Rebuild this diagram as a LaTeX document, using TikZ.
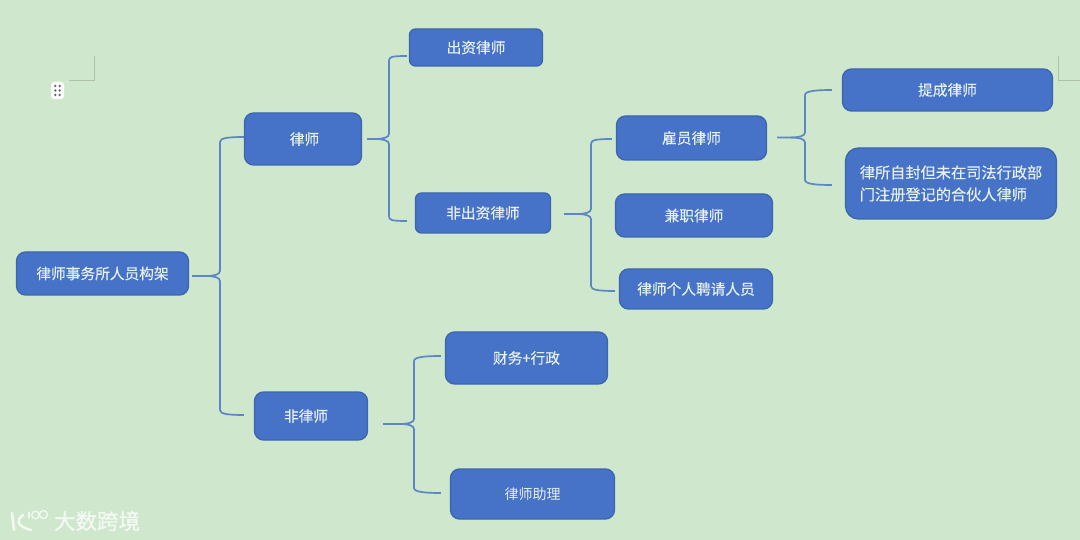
\documentclass[tikz,border=0pt]{standalone}
\usepackage{fontspec}
\setmainfont[FakeBold=0.35]{Noto Sans CJK SC}
\newfontfamily\plainf{Noto Sans CJK SC}
\newfontfamily\heavyf[FakeBold=0.8]{Noto Sans CJK SC}
\usetikzlibrary{calc}
\definecolor{bgc}{HTML}{CFE7CC}
\definecolor{boxc}{HTML}{4672C8}
\definecolor{edgec}{HTML}{3B66AE}
\definecolor{linec}{HTML}{5C86C4}
\definecolor{txtc}{HTML}{E6F0EC}
\definecolor{markc}{HTML}{AEBFAC}
\tikzset{
  unitbox/.style={draw=edgec,line width=1.3pt,fill=boxc,rounded corners=9pt,text=txtc,inner sep=0pt,
    font=\fontsize{14.7pt}{21pt}\selectfont,align=center,xshift=.5pt},
  link/.style={draw=linec,line width=1.7pt},
  crop/.style={draw=markc,line width=.7pt},
  wm/.style={text=white,opacity=.75,font=\heavyf\fontsize{21.5pt}{21.5pt}\selectfont}
}
\newcommand{\bx}[7][]{\node[unitbox,minimum width=#5pt-#3pt,minimum height=#6pt-#4pt,#1] (#2) at ({(#3+#5)/2},{(#4+#6)/2}) {#7};}
\begin{document}
\begin{tikzpicture}[x=1pt,y=-1pt]
\useasboundingbox (0,0) rectangle (1080,540);
\fill[bgc] (0,0) rectangle (1080,540);
% page marks
\draw[crop] (94,56) -- (94,80.5) -- (69,80.5);
\draw[crop] (1058,56) -- (1058,80.5) -- (1080,80.5);
\node[fill=white,rounded corners=3pt,minimum width=13pt,minimum height=17pt,inner sep=0pt] (handle) at (57.5,90.5) {};
\foreach \dx in {-2.2,2.2} \foreach \dy in {-4.5,0,4.5} \fill[gray!80!black] ($(handle.center)+(\dx,\dy)$) circle (1.3);
% boxes
\bx{root}{16}{252}{188}{295}{律师事务所人员构架}
\bx{lawyer}{244}{113}{361}{165}{\hspace*{3pt}律师}
\bx{nonlawyer}{254}{392}{367}{440}{\hspace*{-10pt}非律师}
\bx[rounded corners=6pt]{chuzi}{409}{29}{542}{66}{出资律师}
\bx[rounded corners=6pt]{feichuzi}{415}{193}{550}{233}{非出资律师}
\bx{guyuan}{616}{116}{766}{160}{雇员律师}
\bx{jianzhi}{615}{194}{772}{237}{兼职律师}
\bx{geren}{619}{269}{772}{309}{律师个人聘请人员}
\bx{caiwu}{445}{332}{607}{384}{财务+行政}
\bx[font=\plainf\fontsize{14pt}{20pt}\selectfont]{zhuli}{450}{469}{614}{519}{律师助理}
\bx{ticheng}{842}{69}{1052}{111}{提成律师}
\bx[rounded corners=13pt,align=left,font=\fontsize{15.2pt}{22pt}\selectfont]{zifeng}{845}{148}{1056}{219}{律所自封但未在司法行政部\\门注册登记的合伙人律师}
% connectors
\newcommand{\branch}[6]{%
  \path ($(#1.east)+(#2)$) coordinate (s);
  \path let \p1=(s) in coordinate (t) at (#3,\y1);
  \path ($(#4.west)+(#5)$) coordinate (u);
  \path ($(#6)$) coordinate (d);
  \draw[link,line join=round] (s) -- ($(t)+(-14,0)$) .. controls ($(t)+(-6,0)$) and ($(t)+(0,-1.5)$) .. ($(t)+(0,-5)$)
    -- (t|-{$(u)+(0,5)$}) .. controls (t|-{$(u)+(0,1)$}) and ($(u)+(-16,0)$) .. (u);
  \draw[link,line join=round] ($(t)+(-14,0)$) .. controls ($(t)+(-6,0)$) and ($(t)+(0,1.5)$) .. ($(t)+(0,5)$)
    -- (t|-{$(d)+(0,-5)$}) .. controls (t|-{$(d)+(0,-1)$}) and ($(d)+(-16,0)$) .. (d);
}
\branch{root}{3,2.5}{220}{lawyer}{0,-2}{$(nonlawyer.west)+(-10,-1)$}
\branch{lawyer}{5,0}{389}{chuzi}{-2,8.5}{$(feichuzi.west)+(-8,8)$}
\branch{feichuzi}{13,1}{591}{guyuan}{-4,1}{$(geren.west)+(-4,2)$}
\branch{guyuan}{10,-0.5}{805}{ticheng}{-10,0}{$(zifeng.west)+(-13,1.5)$}
\branch{nonlawyer}{15,8}{414}{caiwu}{-4,-2}{$(zhuli.west)+(-9,-1)$}
% watermark
\node[wm,anchor=west] (wmtext) at (50.5,521) {大数跨境};
\begin{scope}[draw=white,opacity=.75,line cap=round]
\draw[line width=2.6pt] (12,513) -- (14,530);
\draw[line width=2.4pt] (23,515) .. controls (17,519) and (15,526) .. (31,530);
\draw[line width=1.3pt] (29,512) -- (29,518);
\draw[line width=1.3pt] (35.5,515) circle (3.8);
\draw[line width=1.3pt] (43.5,514.5) circle (4);
\end{scope}
\end{tikzpicture}
\end{document}
